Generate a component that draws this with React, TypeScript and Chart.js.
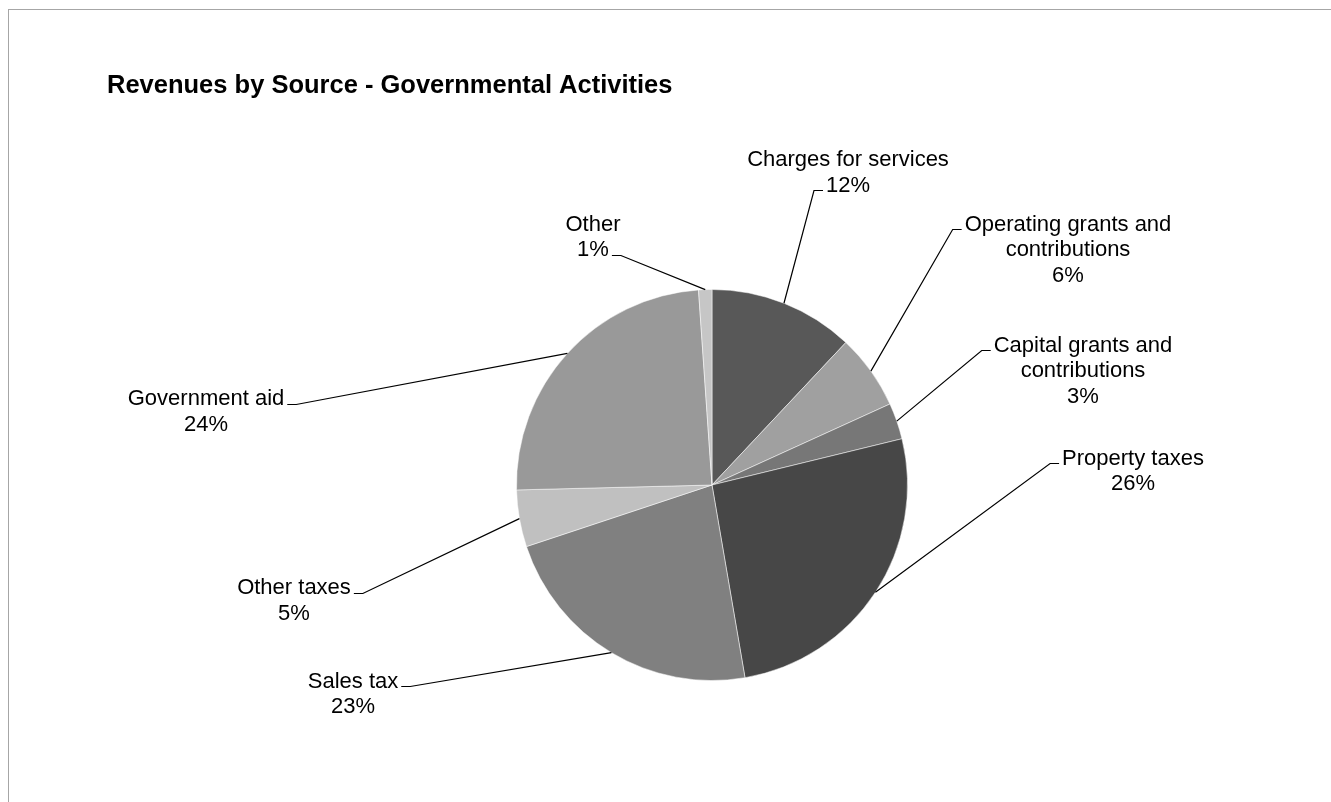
import React, { useEffect, useRef } from "react";
import { Chart, registerables } from "chart.js";

Chart.register(...registerables);

// ---- data ----
const categories = [
  "Charges for services",
  "Operating grants and contributions",
  "Capital grants and contributions",
  "Property taxes",
  "Sales tax",
  "Other taxes",
  "Government aid",
  "Other",
];
const values = [12.0, 6.2, 3.0, 26.1, 22.6, 4.7, 24.3, 1.1];
const sliceColors = ["#585858", "#a0a0a0", "#777777", "#474747", "#808080", "#c0c0c0", "#999999", "#c6c6c6"];
const chartTitle = "Revenues by Source - Governmental Activities";

// ---- label layout (offset of each label block from the pie centre, and which text line the leader meets) ----
const labelOffsets = [
  { dx: 136, dy: -314, attach: 1 },
  { dx: 356, dy: -237, attach: 0 },
  { dx: 371, dy: -116, attach: 0 },
  { dx: 421, dy: -15.5, attach: 0 },
  { dx: -359, dy: 207.5, attach: 0 },
  { dx: -418, dy: 114, attach: 0 },
  { dx: -506, dy: -75, attach: 0 },
  { dx: -119, dy: -249.5, attach: 1 },
];

const FONT_FAMILY = '"Liberation Sans", Arial, sans-serif';
const LABEL_SIZE = 22;
const LINE_H = 25.5;
const WRAP_W = 215;

function wrapText(ctx: CanvasRenderingContext2D, text: string, maxW: number): string[] {
  const words = text.split(" ");
  const out: string[] = [];
  let cur = "";
  for (const w of words) {
    const test = cur ? cur + " " + w : w;
    if (cur && ctx.measureText(test).width > maxW) {
      out.push(cur);
      cur = w;
    } else cur = test;
  }
  if (cur) out.push(cur);
  return out;
}

const labelPlugin = {
  id: "pieLabels",
  afterDatasetsDraw(chart: any) {
    const ctx: CanvasRenderingContext2D = chart.ctx;
    const meta = chart.getDatasetMeta(0);
    const data = chart.data.datasets[0].data as number[];
    const total = data.reduce((a, b) => a + b, 0);
    ctx.save();
    ctx.font = `${LABEL_SIZE}px ${FONT_FAMILY}`;
    meta.data.forEach((arc: any, i: number) => {
      const p = arc.getProps(["x", "y", "startAngle", "endAngle", "outerRadius"], true);
      const mid = (p.startAngle + p.endAngle) / 2;
      const ax = p.x + p.outerRadius * Math.cos(mid);
      const ay = p.y + p.outerRadius * Math.sin(mid);
      const lines = wrapText(ctx, String(chart.data.labels[i]), WRAP_W).concat([
        Math.round((data[i] / total) * 100) + "%",
      ]);
      const lay = labelOffsets[i];
      const cx = p.x + lay.dx;
      const cy = p.y + lay.dy;
      const top = cy - ((lines.length - 1) * LINE_H) / 2;
      ctx.fillStyle = "#000";
      ctx.textAlign = "center";
      ctx.textBaseline = "alphabetic";
      lines.forEach((t, k) => ctx.fillText(t, cx, top + k * LINE_H + 8));
      const w = ctx.measureText(lines[lay.attach]).width;
      const ty = Math.round(top + lay.attach * LINE_H + 6.5) + 0.5;
      let tOuter: number, tInner: number;
      if (lay.dx > 0) {
        tOuter = cx - w / 2 - 3;
        tInner = tOuter - 9;
      } else {
        tOuter = cx + w / 2 + 3;
        tInner = tOuter + 9;
      }
      ctx.beginPath();
      ctx.moveTo(ax, ay);
      ctx.lineTo(tInner, ty);
      ctx.lineTo(tOuter, ty);
      ctx.strokeStyle = "#000";
      ctx.lineWidth = 1.2;
      ctx.stroke();
    });
    // title
    ctx.font = `bold 25.5px ${FONT_FAMILY}`;
    ctx.textAlign = "left";
    ctx.textBaseline = "alphabetic";
    ctx.fillStyle = "#000";
    ctx.fillText(chartTitle, 107, 93);
    ctx.restore();
  },
};

export default function App() {
  const canvasRef = useRef<HTMLCanvasElement | null>(null);

  useEffect(() => {
    if (!canvasRef.current) return;
    const chart = new Chart(canvasRef.current, {
      type: "pie",
      data: {
        labels: categories,
        datasets: [
          {
            data: values,
            backgroundColor: sliceColors,
            borderColor: "rgba(255,255,255,0.5)",
            borderWidth: 1,
          },
        ],
      },
      options: {
        responsive: false,
        maintainAspectRatio: false,
        animation: false,
        layout: { padding: { left: 516, right: 423, top: 289, bottom: 121 } },
        plugins: {
          legend: { display: false },
          tooltip: { enabled: false },
          title: { display: false },
        },
      },
      plugins: [labelPlugin],
    });
    return () => chart.destroy();
  }, []);

  return (
    <div style={{ position: "absolute", left: 0, top: 0, width: 1331, height: 802, background: "#fff", overflow: "hidden" }}>
      <div
        style={{
          position: "absolute",
          left: 8,
          top: 9,
          width: 1323,
          height: 793,
          boxSizing: "border-box",
          borderTop: "1px solid #a6a6a6",
          borderLeft: "1px solid #a6a6a6",
        }}
      />
      <canvas
        ref={canvasRef}
        width={1331}
        height={802}
        style={{ position: "absolute", left: 0, top: 0, width: 1331, height: 802 }}
      />
    </div>
  );
}
